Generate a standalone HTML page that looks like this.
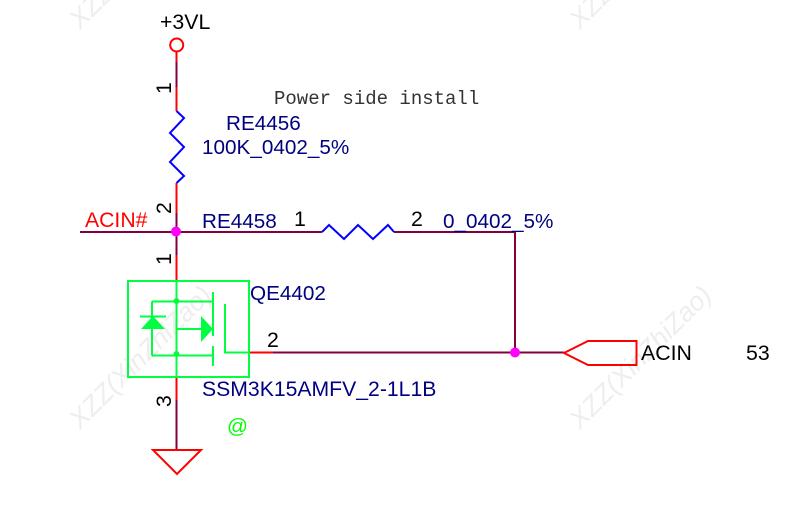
<!DOCTYPE html>
<html><head><meta charset="utf-8"><style>
html,body{margin:0;padding:0;background:#fff;width:794px;height:525px;overflow:hidden}
svg{display:block}
text{font-family:"Liberation Sans",sans-serif;font-size:20.7px}
.n{fill:#000080}.k{fill:#000;font-size:21.3px}
.b{font-size:21.2px}
.wm{fill:#eeeeee;font-size:26.500px;font-style:italic}
</style></head><body>
<svg width="794" height="525" viewBox="0 0 794 525" xmlns="http://www.w3.org/2000/svg">
<g class="wm">
<text class="wm" transform="translate(80,430) rotate(-45)">XZZ(XinZhiZao)</text>
<text class="wm" transform="translate(580,430) rotate(-45)">XZZ(XinZhiZao)</text>
<text class="wm" transform="translate(80,30) rotate(-45)">XZZ(XinZhiZao)</text>
<text class="wm" transform="translate(580,30) rotate(-45)">XZZ(XinZhiZao)</text>
</g>
<g fill="none" stroke-width="2">
<path d="M176.500 52V111M176.500 183V232M176.500 232V281M176.500 377V450M176 232H322M394 232H515V353M249 352.500H564" stroke="#ff0000"/>
<path d="M176.500 62V87M176.500 213V255M176.500 400V450M80 232H322M394 232H515V353M273 352.500H564" stroke="#800040"/>
<circle cx="176.700" cy="45" r="6.500" stroke="#ff0000"/>
<path d="M176.500 111L184 118L170 133L184 147L170 162L184 176L176.500 183" stroke="#0000ff"/>
<path d="M322 232L329 225L344 239L358 225L373 239L388 225L394 232" stroke="#0000ff"/>
<path d="M153 450H201L177 474Z" stroke="#ff0000"/>
<path d="M564 353L588 341H636.500V365H588Z" stroke="#ff0000"/>
<g stroke="#00ff40">
<rect x="128" y="281" width="121" height="96"/>
<path d="M176.500 281V377M152 301.500H213M152 355.500H213M152 301.500V355.500M213 292V336M213 346V366M176.500 329H202M225 304V352.500H249M140 316.500H166"/>
</g>
</g>
<g fill="#00ff40">
<path d="M141 329H165L153 316Z"/>
<path d="M201 316L213 329L201 342Z"/>
<circle cx="176.500" cy="301" r="3"/>
<circle cx="176.500" cy="354" r="3"/>
</g>
<g fill="#ff00ff">
<circle cx="176" cy="231.500" r="5"/>
<circle cx="515" cy="352.500" r="5"/>
</g>
<text class="k" x="160" y="29">+3VL</text>
<text style="font-family:'Liberation Mono',monospace;font-size:19px" fill="#333" x="274" y="104">Power side install</text>
<text class="n" x="226" y="130">RE4456</text>
<text class="n" x="202" y="154">100K_0402_5%</text>
<text class="b" x="85" y="227" fill="#ff0000">ACIN#</text>
<text class="n" x="202" y="228">RE4458</text>
<text class="k" x="294" y="226">1</text>
<text class="k" x="411" y="226">2</text>
<text class="n" x="443" y="228">0_0402_5%</text>
<text class="n" x="250" y="300">QE4402</text>
<text class="k" x="267" y="347">2</text>
<text class="k" x="641" y="360">ACIN</text>
<text class="k" x="746" y="360">53</text>
<text class="n b" x="202" y="396">SSM3K15AMFV_2-1L1B</text>
<text x="227" y="433" fill="#00ff00">@</text>
<text class="k" transform="translate(171,94) rotate(-90)">1</text>
<text class="k" transform="translate(171,214) rotate(-90)">2</text>
<text class="k" transform="translate(171,265) rotate(-90)">1</text>
<text class="k" transform="translate(171,407) rotate(-90)">3</text>
</svg>
</body></html>
